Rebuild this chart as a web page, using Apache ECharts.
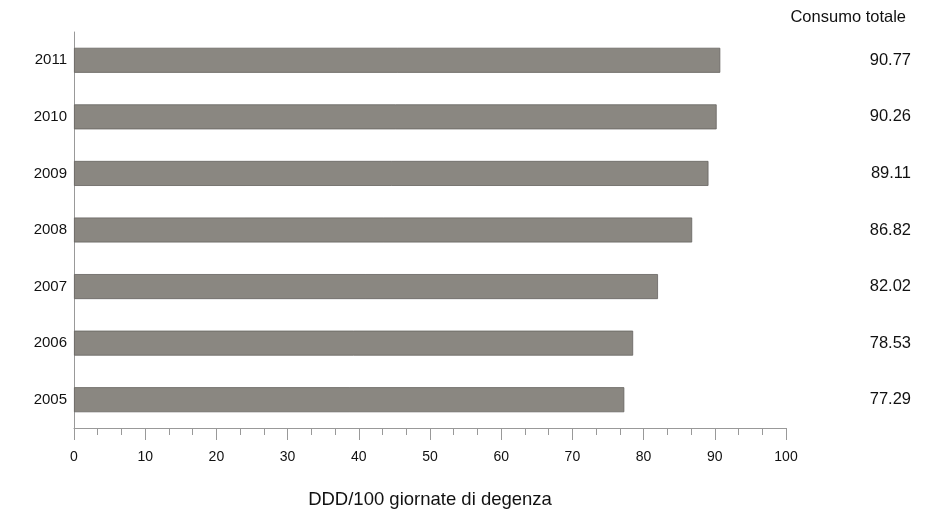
<!DOCTYPE html>
<html>
<head>
<meta charset="utf-8">
<script src="https://cdn.jsdelivr.net/npm/echarts@6/dist/echarts.min.js"></script>
<style>html,body{margin:0;padding:0;background:#fff}#c{width:944px;height:528px}</style>
</head>
<body>
<div id="c"></div>
<script>
var years = ['2005','2006','2007','2008','2009','2010','2011'];
var values = [77.29, 78.53, 82.02, 86.82, 89.11, 90.26, 90.77];
var valueLabels = ['77.29','78.53','82.02','86.82','89.11','90.26','90.77'];
var xTicks = [0,10,20,30,40,50,60,70,80,90,100];

var chart = echarts.init(document.getElementById('c'));
chart.setOption({
  animation: false,
  backgroundColor: '#fff',
  textStyle: { fontFamily: 'Liberation Sans, Arial, sans-serif' },
  title: {
    text: 'Consumo totale',
    right: 33, top: 4,
    textStyle: { fontSize: 16.5, fontWeight: 'normal', color: '#111', fontFamily: 'Liberation Sans, Arial, sans-serif' }
  },
  grid: { left: 74, right: 158, top: 32, bottom: 100, containLabel: false },
  xAxis: {
    type: 'value', min: xTicks[0], max: xTicks[xTicks.length-1], interval: 10,
    name: 'DDD/100 giornate di degenza', nameLocation: 'middle', nameGap: 62,
    nameTextStyle: { fontSize: 18.5, color: '#111' },
    axisLine: { show: true, lineStyle: { color: '#999', width: 1 } },
    axisTick: { show: true, length: 12, lineStyle: { color: '#999' } },
    minorTick: { show: true, splitNumber: 3, length: 7, lineStyle: { color: '#999' } },
    splitLine: { show: false },
    axisLabel: { fontSize: 14, color: '#111', margin: 22 }
  },
  yAxis: [{
    type: 'category', data: years,
    axisLine: { show: true, lineStyle: { color: '#999' } },
    axisTick: { show: false },
    axisLabel: { fontSize: 15, color: '#111', margin: 7 }
  }, {
    type: 'category', data: valueLabels, position: 'right',
    axisLine: { show: false }, axisTick: { show: false },
    axisLabel: { fontSize: 16.5, color: '#111', align: 'right', margin: 125 }
  }],
  series: [{
    type: 'bar', data: values, barWidth: 25,
    itemStyle: { color: '#8a8781', borderColor: '#66635f', borderWidth: 0.8 }
  }]
});
</script>
</body>
</html>
